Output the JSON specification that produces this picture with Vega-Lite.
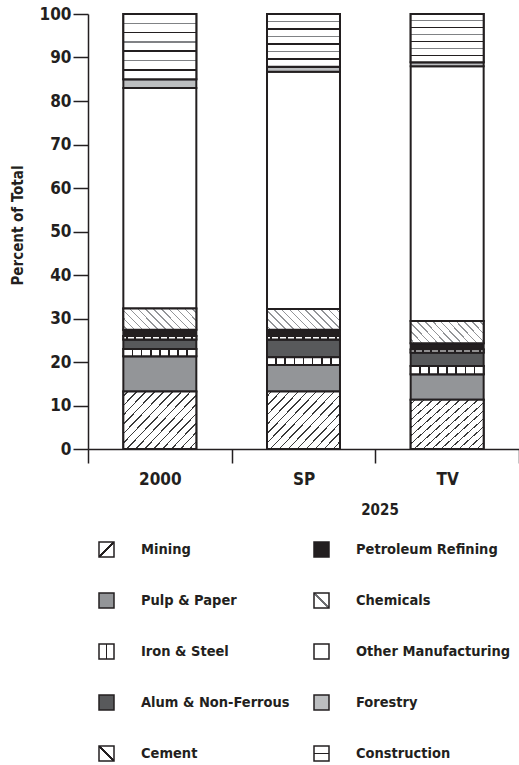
{
  "$schema": "https://vega.github.io/schema/vega-lite/v6.json",
  "autosize": "none",
  "width": 431,
  "height": 435,
  "padding": {"left": 88, "top": 14, "right": 0, "bottom": 316},
  "background": "white",
  "data": {"values": [
    {"s":"2000","c":"Mining","k":1,"v":13.2},
    {"s":"2000","c":"Pulp & Paper","k":2,"v":8.1},
    {"s":"2000","c":"Iron & Steel","k":3,"v":1.7},
    {"s":"2000","c":"Alum & Non-Ferrous","k":4,"v":2.2},
    {"s":"2000","c":"Cement","k":5,"v":0.8},
    {"s":"2000","c":"Petroleum Refining","k":6,"v":1.4},
    {"s":"2000","c":"Chemicals","k":7,"v":4.9},
    {"s":"2000","c":"Other Manufacturing","k":8,"v":50.7},
    {"s":"2000","c":"Forestry","k":9,"v":2.0},
    {"s":"2000","c":"Construction","k":10,"v":15.0},
    {"s":"SP","c":"Mining","k":1,"v":13.2},
    {"s":"SP","c":"Pulp & Paper","k":2,"v":6.1},
    {"s":"SP","c":"Iron & Steel","k":3,"v":1.8},
    {"s":"SP","c":"Alum & Non-Ferrous","k":4,"v":4.1},
    {"s":"SP","c":"Cement","k":5,"v":0.8},
    {"s":"SP","c":"Petroleum Refining","k":6,"v":1.4},
    {"s":"SP","c":"Chemicals","k":7,"v":4.8},
    {"s":"SP","c":"Other Manufacturing","k":8,"v":54.5},
    {"s":"SP","c":"Forestry","k":9,"v":1.2},
    {"s":"SP","c":"Construction","k":10,"v":12.1},
    {"s":"TV","c":"Mining","k":1,"v":11.3},
    {"s":"TV","c":"Pulp & Paper","k":2,"v":5.9},
    {"s":"TV","c":"Iron & Steel","k":3,"v":1.9},
    {"s":"TV","c":"Alum & Non-Ferrous","k":4,"v":3.1},
    {"s":"TV","c":"Cement","k":5,"v":0.7},
    {"s":"TV","c":"Petroleum Refining","k":6,"v":1.4},
    {"s":"TV","c":"Chemicals","k":7,"v":5.1},
    {"s":"TV","c":"Other Manufacturing","k":8,"v":58.6},
    {"s":"TV","c":"Forestry","k":9,"v":0.9},
    {"s":"TV","c":"Construction","k":10,"v":11.1}
  ]},
  "transform": [
    {"stack": "v", "groupby": ["s"], "sort": [{"field": "k", "order": "ascending"}], "as": ["v0", "v1"]}
  ],
  "encoding": {
    "x": {
      "field": "s", "type": "nominal", "sort": null,
      "scale": {"paddingInner": 0, "paddingOuter": 0},
      "axis": {
        "title": "2025", "labelAngle": 0, "tickBand": "extent", "tickSize": 14, "labelPadding": 8,
        "titleX": 291.5, "titleY": 60, "titleAlign": "center", "titleBaseline": "middle"
      }
    },
    "y": {
      "field": "v0", "type": "quantitative",
      "scale": {"domain": [0, 100], "nice": false},
      "axis": {"title": "Percent of Total", "values": [0,10,20,30,40,50,60,70,80,90,100], "tickSize": 15, "labelPadding": 2, "titlePadding": 14, "titleY": 211, "grid": false}
    },
    "y2": {"field": "v1"}
  },
  "layer": [
    {
      "mark": {"type": "bar", "stroke": "#231f20", "strokeWidth": 2, "width": {"band": 0.508}},
      "encoding": {
        "fill": {
          "field": "c", "type": "nominal",
          "scale": {
            "domain": ["Mining","Pulp & Paper","Iron & Steel","Alum & Non-Ferrous","Cement","Petroleum Refining","Chemicals","Other Manufacturing","Forestry","Construction"],
            "range": [
              {"expr": "{gradient: 'linear', x1: 0, y1: 0, x2: 1, y2: 1, stops: [{offset: 0, color: '#ffffff'}, {offset: 0.45, color: '#ffffff'}, {offset: 0.45, color: '#231f20'}, {offset: 0.55, color: '#231f20'}, {offset: 0.55, color: '#ffffff'}, {offset: 1, color: '#ffffff'}]}"},
              "#939598",
              {"expr": "{gradient: 'linear', x1: 0, y1: 0, x2: 1, y2: 0, stops: [{offset: 0, color: '#ffffff'}, {offset: 0.45, color: '#ffffff'}, {offset: 0.45, color: '#231f20'}, {offset: 0.55, color: '#231f20'}, {offset: 0.55, color: '#ffffff'}, {offset: 1, color: '#ffffff'}]}"},
              "#58595b",
              {"expr": "{gradient: 'linear', x1: 1, y1: 0, x2: 0, y2: 1, stops: [{offset: 0, color: '#ffffff'}, {offset: 0.44, color: '#ffffff'}, {offset: 0.44, color: '#231f20'}, {offset: 0.56, color: '#231f20'}, {offset: 0.56, color: '#ffffff'}, {offset: 1, color: '#ffffff'}]}"},
              "#231f20",
              {"expr": "{gradient: 'linear', x1: 1, y1: 0, x2: 0, y2: 1, stops: [{offset: 0, color: '#ffffff'}, {offset: 0.46, color: '#ffffff'}, {offset: 0.46, color: '#6d6e71'}, {offset: 0.54, color: '#6d6e71'}, {offset: 0.54, color: '#ffffff'}, {offset: 1, color: '#ffffff'}]}"},
              "#ffffff",
              "#bcbec0",
              {"expr": "{gradient: 'linear', x1: 0, y1: 0, x2: 0, y2: 1, stops: [{offset: 0, color: '#ffffff'}, {offset: 0.45, color: '#ffffff'}, {offset: 0.45, color: '#231f20'}, {offset: 0.55, color: '#231f20'}, {offset: 0.55, color: '#ffffff'}, {offset: 1, color: '#ffffff'}]}"}
            ]
          },
          "legend": {
            "title": null, "orient": "none", "legendX": 10, "legendY": 527, "columns": 2,
            "symbolType": "square", "symbolSize": 225, "labelOffset": 26, "rowPadding": 30, "columnPadding": 21, "padding": 0,
            "symbolStrokeColor": "#231f20", "symbolStrokeWidth": 1.5
          }
        }
      }
    },
    {
      "transform": [{"filter": "datum.c === 'Mining'"}],
      "mark": {"type": "bar", "stroke": "#231f20", "strokeWidth": 2, "width": {"band": 0.508},
        "fill": {"gradient":"linear","x1":0,"y1":0,"x2":1.119,"y2":0.843,"stops":[
            {"offset":0,"color":"#ffffff"},
            {"offset":0.029,"color":"#ffffff"},{"offset":0.029,"color":"#3a3a3a"},{"offset":0.041,"color":"#3a3a3a"},{"offset":0.041,"color":"#ffffff"},
            {"offset":0.099,"color":"#ffffff"},{"offset":0.099,"color":"#3a3a3a"},{"offset":0.111,"color":"#3a3a3a"},{"offset":0.111,"color":"#ffffff"},
            {"offset":0.169,"color":"#ffffff"},{"offset":0.169,"color":"#3a3a3a"},{"offset":0.181,"color":"#3a3a3a"},{"offset":0.181,"color":"#ffffff"},
            {"offset":0.239,"color":"#ffffff"},{"offset":0.239,"color":"#3a3a3a"},{"offset":0.251,"color":"#3a3a3a"},{"offset":0.251,"color":"#ffffff"},
            {"offset":0.309,"color":"#ffffff"},{"offset":0.309,"color":"#3a3a3a"},{"offset":0.321,"color":"#3a3a3a"},{"offset":0.321,"color":"#ffffff"},
            {"offset":0.379,"color":"#ffffff"},{"offset":0.379,"color":"#3a3a3a"},{"offset":0.391,"color":"#3a3a3a"},{"offset":0.391,"color":"#ffffff"},
            {"offset":0.449,"color":"#ffffff"},{"offset":0.449,"color":"#3a3a3a"},{"offset":0.461,"color":"#3a3a3a"},{"offset":0.461,"color":"#ffffff"},
            {"offset":0.519,"color":"#ffffff"},{"offset":0.519,"color":"#3a3a3a"},{"offset":0.531,"color":"#3a3a3a"},{"offset":0.531,"color":"#ffffff"},
            {"offset":0.589,"color":"#ffffff"},{"offset":0.589,"color":"#3a3a3a"},{"offset":0.601,"color":"#3a3a3a"},{"offset":0.601,"color":"#ffffff"},
            {"offset":0.659,"color":"#ffffff"},{"offset":0.659,"color":"#3a3a3a"},{"offset":0.671,"color":"#3a3a3a"},{"offset":0.671,"color":"#ffffff"},
            {"offset":0.729,"color":"#ffffff"},{"offset":0.729,"color":"#3a3a3a"},{"offset":0.741,"color":"#3a3a3a"},{"offset":0.741,"color":"#ffffff"},
            {"offset":0.799,"color":"#ffffff"},{"offset":0.799,"color":"#3a3a3a"},{"offset":0.811,"color":"#3a3a3a"},{"offset":0.811,"color":"#ffffff"},
            {"offset":0.869,"color":"#ffffff"},{"offset":0.869,"color":"#3a3a3a"},{"offset":0.881,"color":"#3a3a3a"},{"offset":0.881,"color":"#ffffff"},
            {"offset":0.939,"color":"#ffffff"},{"offset":0.939,"color":"#3a3a3a"},{"offset":0.951,"color":"#3a3a3a"},{"offset":0.951,"color":"#ffffff"},
            {"offset":1,"color":"#ffffff"}]}
      }
    },
    {
      "transform": [{"filter": "datum.c === 'Chemicals'"}],
      "mark": {"type": "bar", "stroke": "#231f20", "strokeWidth": 2, "width": {"band": 0.508},
        "fill": {"gradient":"linear","x1":0,"y1":1,"x2":1.189,"y2":0.658,"stops":[
            {"offset":0,"color":"#ffffff"},
            {"offset":0.032,"color":"#ffffff"},{"offset":0.032,"color":"#939598"},{"offset":0.048,"color":"#939598"},{"offset":0.048,"color":"#ffffff"},
            {"offset":0.115,"color":"#ffffff"},{"offset":0.115,"color":"#939598"},{"offset":0.131,"color":"#939598"},{"offset":0.131,"color":"#ffffff"},
            {"offset":0.198,"color":"#ffffff"},{"offset":0.198,"color":"#939598"},{"offset":0.214,"color":"#939598"},{"offset":0.214,"color":"#ffffff"},
            {"offset":0.282,"color":"#ffffff"},{"offset":0.282,"color":"#939598"},{"offset":0.298,"color":"#939598"},{"offset":0.298,"color":"#ffffff"},
            {"offset":0.365,"color":"#ffffff"},{"offset":0.365,"color":"#939598"},{"offset":0.381,"color":"#939598"},{"offset":0.381,"color":"#ffffff"},
            {"offset":0.448,"color":"#ffffff"},{"offset":0.448,"color":"#939598"},{"offset":0.464,"color":"#939598"},{"offset":0.464,"color":"#ffffff"},
            {"offset":0.532,"color":"#ffffff"},{"offset":0.532,"color":"#939598"},{"offset":0.548,"color":"#939598"},{"offset":0.548,"color":"#ffffff"},
            {"offset":0.615,"color":"#ffffff"},{"offset":0.615,"color":"#939598"},{"offset":0.631,"color":"#939598"},{"offset":0.631,"color":"#ffffff"},
            {"offset":0.698,"color":"#ffffff"},{"offset":0.698,"color":"#939598"},{"offset":0.714,"color":"#939598"},{"offset":0.714,"color":"#ffffff"},
            {"offset":0.782,"color":"#ffffff"},{"offset":0.782,"color":"#939598"},{"offset":0.798,"color":"#939598"},{"offset":0.798,"color":"#ffffff"},
            {"offset":0.865,"color":"#ffffff"},{"offset":0.865,"color":"#939598"},{"offset":0.881,"color":"#939598"},{"offset":0.881,"color":"#ffffff"},
            {"offset":0.948,"color":"#ffffff"},{"offset":0.948,"color":"#939598"},{"offset":0.964,"color":"#939598"},{"offset":0.964,"color":"#ffffff"},
            {"offset":1,"color":"#ffffff"}]}
      }
    },
    {
      "transform": [{"filter": "datum.c === 'Iron & Steel'"}],
      "mark": {"type": "bar", "stroke": "#231f20", "strokeWidth": 2, "width": {"band": 0.508},
        "fill": {"gradient":"linear","x1":0,"y1":0,"x2":1,"y2":0,"stops":[
            {"offset":0,"color":"#ffffff"},
            {"offset":0.113,"color":"#ffffff"},{"offset":0.113,"color":"#231f20"},{"offset":0.137,"color":"#231f20"},{"offset":0.137,"color":"#ffffff"},
            {"offset":0.238,"color":"#ffffff"},{"offset":0.238,"color":"#231f20"},{"offset":0.262,"color":"#231f20"},{"offset":0.262,"color":"#ffffff"},
            {"offset":0.363,"color":"#ffffff"},{"offset":0.363,"color":"#231f20"},{"offset":0.387,"color":"#231f20"},{"offset":0.387,"color":"#ffffff"},
            {"offset":0.488,"color":"#ffffff"},{"offset":0.488,"color":"#231f20"},{"offset":0.512,"color":"#231f20"},{"offset":0.512,"color":"#ffffff"},
            {"offset":0.613,"color":"#ffffff"},{"offset":0.613,"color":"#231f20"},{"offset":0.637,"color":"#231f20"},{"offset":0.637,"color":"#ffffff"},
            {"offset":0.738,"color":"#ffffff"},{"offset":0.738,"color":"#231f20"},{"offset":0.762,"color":"#231f20"},{"offset":0.762,"color":"#ffffff"},
            {"offset":0.863,"color":"#ffffff"},{"offset":0.863,"color":"#231f20"},{"offset":0.887,"color":"#231f20"},{"offset":0.887,"color":"#ffffff"},
            {"offset":1,"color":"#ffffff"}]}
      }
    },
    {
      "transform": [{"filter": "datum.c === 'Cement'"}],
      "mark": {"type": "bar", "stroke": "#231f20", "strokeWidth": 2, "width": {"band": 0.508},
        "fill": {"gradient":"linear","x1":0,"y1":0,"x2":1,"y2":0,"stops":[
            {"offset":0,"color":"#ffffff"},
            {"offset":0.041,"color":"#ffffff"},{"offset":0.041,"color":"#231f20"},{"offset":0.069,"color":"#231f20"},{"offset":0.069,"color":"#ffffff"},
            {"offset":0.152,"color":"#ffffff"},{"offset":0.152,"color":"#231f20"},{"offset":0.180,"color":"#231f20"},{"offset":0.180,"color":"#ffffff"},
            {"offset":0.263,"color":"#ffffff"},{"offset":0.263,"color":"#231f20"},{"offset":0.291,"color":"#231f20"},{"offset":0.291,"color":"#ffffff"},
            {"offset":0.374,"color":"#ffffff"},{"offset":0.374,"color":"#231f20"},{"offset":0.402,"color":"#231f20"},{"offset":0.402,"color":"#ffffff"},
            {"offset":0.486,"color":"#ffffff"},{"offset":0.486,"color":"#231f20"},{"offset":0.514,"color":"#231f20"},{"offset":0.514,"color":"#ffffff"},
            {"offset":0.597,"color":"#ffffff"},{"offset":0.597,"color":"#231f20"},{"offset":0.625,"color":"#231f20"},{"offset":0.625,"color":"#ffffff"},
            {"offset":0.708,"color":"#ffffff"},{"offset":0.708,"color":"#231f20"},{"offset":0.736,"color":"#231f20"},{"offset":0.736,"color":"#ffffff"},
            {"offset":0.819,"color":"#ffffff"},{"offset":0.819,"color":"#231f20"},{"offset":0.847,"color":"#231f20"},{"offset":0.847,"color":"#ffffff"},
            {"offset":0.930,"color":"#ffffff"},{"offset":0.930,"color":"#231f20"},{"offset":0.958,"color":"#231f20"},{"offset":0.958,"color":"#ffffff"},
            {"offset":1,"color":"#ffffff"}]}
      }
    },
    {
      "transform": [{"filter": "datum.c === 'Construction'"}],
      "mark": {"type": "bar", "stroke": "#231f20", "strokeWidth": 2, "width": {"band": 0.508},
        "fill": {"gradient":"linear","x1":0,"y1":0,"x2":0,"y2":1,"stops":[
            {"offset":0,"color":"#ffffff"},
            {"offset":0.131,"color":"#ffffff"},{"offset":0.131,"color":"#808285"},{"offset":0.155,"color":"#808285"},{"offset":0.155,"color":"#ffffff"},
            {"offset":0.274,"color":"#ffffff"},{"offset":0.274,"color":"#231f20"},{"offset":0.298,"color":"#231f20"},{"offset":0.298,"color":"#ffffff"},
            {"offset":0.417,"color":"#ffffff"},{"offset":0.417,"color":"#808285"},{"offset":0.441,"color":"#808285"},{"offset":0.441,"color":"#ffffff"},
            {"offset":0.559,"color":"#ffffff"},{"offset":0.559,"color":"#231f20"},{"offset":0.583,"color":"#231f20"},{"offset":0.583,"color":"#ffffff"},
            {"offset":0.702,"color":"#ffffff"},{"offset":0.702,"color":"#808285"},{"offset":0.726,"color":"#808285"},{"offset":0.726,"color":"#ffffff"},
            {"offset":0.845,"color":"#ffffff"},{"offset":0.845,"color":"#231f20"},{"offset":0.869,"color":"#231f20"},{"offset":0.869,"color":"#ffffff"},
            {"offset":1,"color":"#ffffff"}]}
      }
    }
  ],
  "config": {
    "view": {"stroke": null},
    "font": "DejaVu Sans Condensed",
    "axis": {
      "domainColor": "#231f20", "domainWidth": 1.5, "tickColor": "#231f20", "tickWidth": 1.5,
      "labelFont": "DejaVu Sans Condensed", "labelFontSize": 17, "labelFontWeight": "bold", "labelColor": "#231f20",
      "titleFont": "DejaVu Sans Condensed", "titleFontSize": 15, "titleFontWeight": "bold", "titleColor": "#231f20"
    },
    "legend": {
      "labelFont": "DejaVu Sans Condensed", "labelFontSize": 14.5, "labelFontWeight": "bold", "labelColor": "#231f20", "labelLimit": 300
    }
  }
}
